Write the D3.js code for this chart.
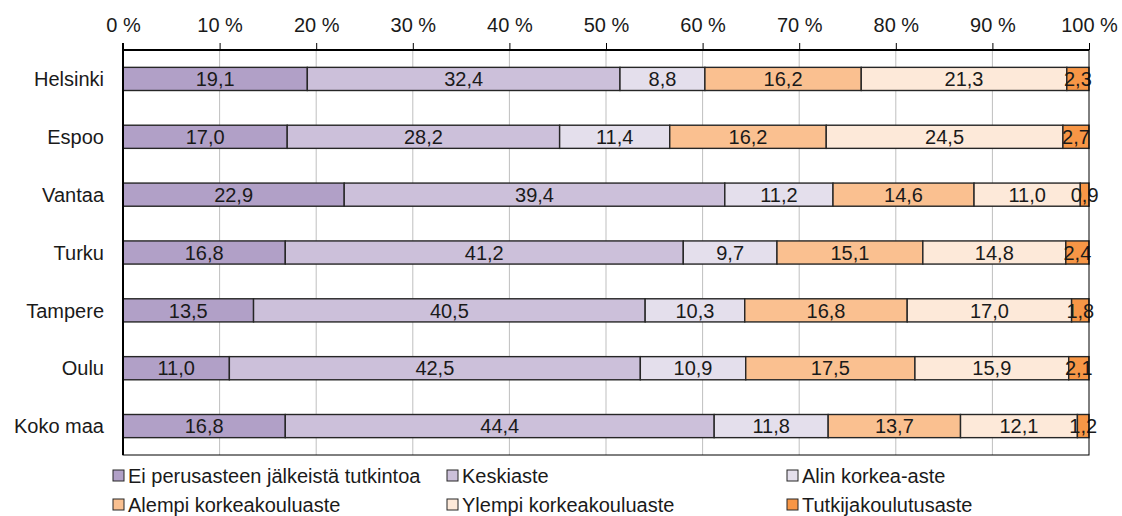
<!DOCTYPE html>
<html>
<head>
<meta charset="utf-8">
<script src="https://cdn.jsdelivr.net/npm/d3@7"></script>
<style>
  body { margin: 0; background: #fff; }
  svg text { font-family: "Liberation Sans", Arial, sans-serif; fill: #1a1a1a; }
</style>
</head>
<body>
<svg id="chart" width="1122" height="516"></svg>
<script>
const cities = ["Helsinki", "Espoo", "Vantaa", "Turku", "Tampere", "Oulu", "Koko maa"];
const seriesNames = ["Ei perusasteen jälkeistä tutkintoa", "Keskiaste", "Alin korkea-aste",
                     "Alempi korkeakouluaste", "Ylempi korkeakouluaste", "Tutkijakoulutusaste"];
const eiPerus   = [19.1, 17.0, 22.9, 16.8, 13.5, 11.0, 16.8];
const keskiaste = [32.4, 28.2, 39.4, 41.2, 40.5, 42.5, 44.4];
const alin      = [8.8, 11.4, 11.2, 9.7, 10.3, 10.9, 11.8];
const alempi    = [16.2, 16.2, 14.6, 15.1, 16.8, 17.5, 13.7];
const ylempi    = [21.3, 24.5, 11.0, 14.8, 17.0, 15.9, 12.1];
const tutkija   = [2.3, 2.7, 0.9, 2.4, 1.8, 2.1, 1.2];
const tickValues = [0, 10, 20, 30, 40, 50, 60, 70, 80, 90, 100];
const colors = ["#b1a0c7", "#ccc0da", "#e4dfec", "#fac090", "#fde9d9", "#f79646"];

const seriesValues = [eiPerus, keskiaste, alin, alempi, ylempi, tutkija];
const fontSize = "20px";

const svg = d3.select("#chart");
const pLeft = 123, pRight = 1089, pTop = 50, pBottom = 455;

const x = d3.scaleLinear().domain([0, 100]).range([pLeft, pRight]);
const y = d3.scaleBand().domain(cities).range([pTop, pBottom])
    .paddingInner(0.6).paddingOuter(0.3);

// gridlines
svg.append("g")
    .selectAll("line")
    .data(tickValues.slice(1, -1))
    .join("line")
    .attr("x1", d => x(d)).attr("x2", d => x(d))
    .attr("y1", pTop).attr("y2", pBottom)
    .attr("stroke", "#bfbfbf").attr("stroke-width", 1);

// build stacked rows (normalised to 100 %)
const rows = cities.map((c, i) => {
    const vals = seriesValues.map(s => s[i]);
    const total = d3.sum(vals);
    let acc = 0;
    return vals.map((v, k) => {
        const seg = { city: c, k: k, v: v, x0: acc / total * 100, x1: (acc + v) / total * 100 };
        acc += v;
        return seg;
    });
});
const segs = rows.flat();

svg.append("g")
    .selectAll("rect")
    .data(segs)
    .join("rect")
    .attr("x", d => x(d.x0))
    .attr("y", d => y(d.city))
    .attr("width", d => x(d.x1) - x(d.x0))
    .attr("height", y.bandwidth())
    .attr("fill", d => colors[d.k])
    .attr("stroke", "#262626")
    .attr("stroke-width", 1.4);

svg.append("g")
    .selectAll("text")
    .data(segs)
    .join("text")
    .attr("x", d => (x(d.x0) + x(d.x1)) / 2)
    .attr("y", d => y(d.city) + y.bandwidth() / 2)
    .attr("dy", "0.36em")
    .attr("text-anchor", "middle")
    .style("font-size", fontSize)
    .text(d => d.v.toFixed(1).replace(".", ","));

// frame
svg.append("rect")
    .attr("x", pLeft).attr("y", pTop)
    .attr("width", pRight - pLeft).attr("height", pBottom - pTop)
    .attr("fill", "none").attr("stroke", "#000").attr("stroke-width", 1);
svg.append("line")
    .attr("x1", pLeft).attr("x2", pRight).attr("y1", pTop).attr("y2", pTop)
    .attr("stroke", "#000").attr("stroke-width", 2);
svg.append("line")
    .attr("x1", pLeft).attr("x2", pLeft).attr("y1", pTop - 7).attr("y2", pBottom)
    .attr("stroke", "#000").attr("stroke-width", 2);

// top axis
const axis = svg.append("g")
    .attr("transform", `translate(0,${pTop})`)
    .call(d3.axisTop(x).tickValues(tickValues).tickSize(7).tickPadding(11)
        .tickFormat(d => d + " %"));
axis.select(".domain").remove();
axis.selectAll(".tick line").attr("stroke", "#000").attr("stroke-width", 1);
axis.selectAll(".tick text")
    .style("font-size", fontSize)
    .style("font-family", "Liberation Sans, Arial, sans-serif")
    .attr("fill", "#1a1a1a");

// category labels
svg.append("g")
    .selectAll("text")
    .data(cities)
    .join("text")
    .attr("x", 104)
    .attr("y", d => y(d) + y.bandwidth() / 2)
    .attr("dy", "0.36em")
    .attr("text-anchor", "end")
    .style("font-size", fontSize)
    .text(d => d);

// legend
const legendPos = [[113, 476], [447, 476], [787, 476], [113, 505], [447, 505], [787, 505]];
const legend = svg.append("g")
    .selectAll("g")
    .data(seriesNames)
    .join("g")
    .attr("transform", (d, i) => `translate(${legendPos[i][0]},${legendPos[i][1]})`);
legend.append("rect")
    .attr("x", 0).attr("y", -6)
    .attr("width", 11).attr("height", 11)
    .attr("fill", (d, i) => colors[i])
    .attr("stroke", "#262626").attr("stroke-width", 1);
legend.append("text")
    .attr("x", 15)
    .attr("dy", "0.36em")
    .style("font-size", fontSize)
    .text(d => d);
</script>
</body>
</html>
